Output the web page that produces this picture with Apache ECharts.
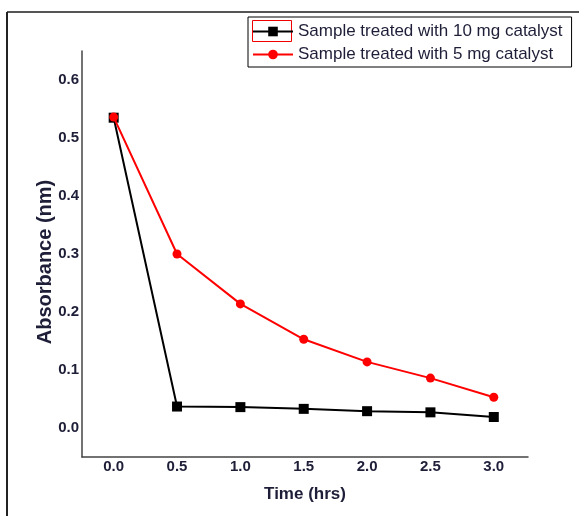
<!DOCTYPE html>
<html>
<head>
<meta charset="utf-8">
<script src="https://cdn.jsdelivr.net/npm/echarts@6/dist/echarts.min.js"></script>
<style>
  html, body { margin: 0; padding: 0; background: #fff; }
  #chart { width: 579px; height: 516px; }
</style>
</head>
<body>
<div id="chart"></div>
<script>
// values
var timeHrs = [0.0, 0.5, 1.0, 1.5, 2.0, 2.5, 3.0];
var abs10mg = [0.535, 0.037, 0.036, 0.033, 0.029, 0.027, 0.019];
var abs5mg = [0.536, 0.300, 0.214, 0.153, 0.114, 0.086, 0.053];
var xTicks = [0, 0.5, 1, 1.5, 2, 2.5, 3];
var yTicks = [0, 0.1, 0.2, 0.3, 0.4, 0.5, 0.6];

function pairs(xs, ys) {
  return xs.map(function(x, i) { return [x, ys[i]]; });
}

var labelStyle = {
  color: "#1e1e38",
  fontFamily: "Liberation Sans",
  fontWeight: "bold",
  fontSize: 15
};

var chart = echarts.init(document.getElementById("chart"));
chart.setOption({
  backgroundColor: "#fff",
  animation: false,
  grid: { left: 82, right: 51, top: 51, bottom: 59 },
  legend: {
    orient: "vertical",
    left: 248,
    top: 17,
    itemWidth: 40,
    itemHeight: 12,
    itemGap: 6,
    padding: [6, 9, 4, 4],
    borderColor: "#000",
    borderWidth: 1,
    textStyle: { color: "#1e1e38", fontFamily: "Liberation Sans", fontSize: 17 },
    data: ["Sample treated with 10 mg catalyst", "Sample treated with 5 mg catalyst"]
  },
  xAxis: {
    type: "value",
    min: -0.25,
    max: 3.27,
    name: "Time (hrs)",
    nameLocation: "middle",
    nameGap: 29,
    nameMoveOverlap: false,
    nameTextStyle: { color: "#1e1e38", fontFamily: "Liberation Sans", fontWeight: "bold", fontSize: 17 },
    axisLine: { onZero: false, lineStyle: { color: "#444", width: 1.5 } },
    axisTick: { show: false },
    splitLine: { show: false },
    axisLabel: Object.assign({
      margin: 2,
      customValues: xTicks,
      formatter: function(v) { return v.toFixed(1); }
    }, labelStyle)
  },
  yAxis: {
    type: "value",
    min: -0.05,
    max: 0.65,
    name: "Absorbance (nm)",
    nameLocation: "middle",
    nameGap: 27,
    nameMoveOverlap: false,
    nameTextStyle: { color: "#1e1e38", fontFamily: "Liberation Sans", fontWeight: "bold", fontSize: 20, padding: [0, 16, 0, 0] },
    axisLine: { show: true, onZero: false, lineStyle: { color: "#444", width: 1.5 } },
    axisTick: { show: false },
    splitLine: { show: false },
    axisLabel: Object.assign({
      margin: 3,
      customValues: yTicks,
      formatter: function(v) { return v.toFixed(1); }
    }, labelStyle)
  },
  graphic: [
    { type: "line", shape: { x1: 7, y1: 12, x2: 579, y2: 12 }, style: { stroke: "#555", lineWidth: 2 } },
    { type: "line", shape: { x1: 7, y1: 12, x2: 7, y2: 516 }, style: { stroke: "#222", lineWidth: 2 } },
    { type: "rect", shape: { x: 252.5, y: 20.5, width: 39, height: 21 }, style: { fill: "none", stroke: "#e00", lineWidth: 1 } }
  ],
  series: [
    {
      name: "Sample treated with 10 mg catalyst",
      type: "line",
      data: pairs(timeHrs, abs10mg),
      symbol: "rect",
      symbolSize: 10,
      itemStyle: { color: "#000" },
      lineStyle: { color: "#000", width: 2 },
      z: 2
    },
    {
      name: "Sample treated with 5 mg catalyst",
      type: "line",
      data: pairs(timeHrs, abs5mg),
      symbol: "circle",
      symbolSize: 9,
      itemStyle: { color: "#f00" },
      lineStyle: { color: "#f00", width: 2 },
      z: 3
    }
  ]
});
</script>
</body>
</html>
